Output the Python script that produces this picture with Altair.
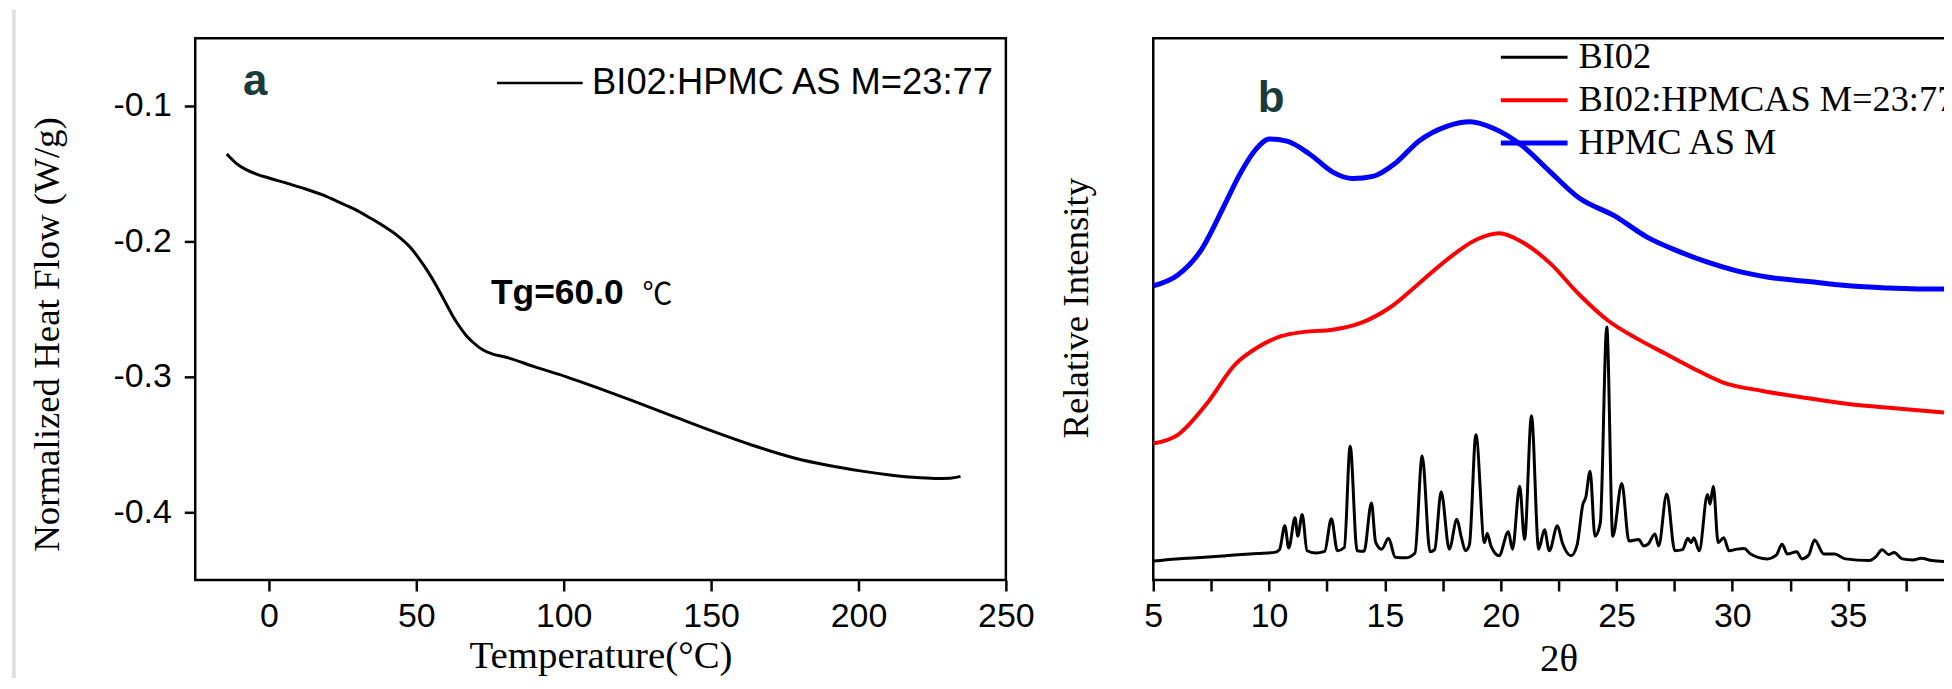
import altair as alt
import pandas as pd

# ---------------- Panel a : DSC curve ----------------
DSC_SERIES = "BI02:HPMC AS M=23:77"
DSC_TEMP = [-14.3, -11, -7.9, -4, 0, 6, 12.5, 18, 23.8, 29, 34, 39, 44.2, 48, 51, 54,
            56.7, 59.5, 62.3, 64.7, 66.9, 69.5, 72.5, 76, 80.5, 90, 100.9, 112, 123.5,
            137, 150.7, 164, 177.9, 190, 200.6, 210, 218.7, 226, 231, 234.6]
DSC_FLOW = [-0.1355, -0.1425, -0.1468, -0.1505, -0.1532, -0.157, -0.1613, -0.1655,
            -0.171, -0.1762, -0.1823, -0.1888, -0.1968, -0.2045, -0.2129, -0.2225,
            -0.2323, -0.2435, -0.2548, -0.263, -0.2694, -0.275, -0.28, -0.2832,
            -0.2855, -0.2925, -0.3, -0.3085, -0.3177, -0.329, -0.3403, -0.3505,
            -0.3597, -0.3655, -0.3694, -0.3722, -0.3742, -0.375, -0.3748, -0.3735]
TEMP_DOMAIN = [-25, 250]
FLOW_DOMAIN = [-0.45, -0.05]
TEMP_TICKS = [0, 50, 100, 150, 200, 250]
FLOW_TICKS = [-0.4, -0.3, -0.2, -0.1]

# ---------------- Panel b : XRD patterns ----------------
XRD_SERIES = ["BI02", "BI02:HPMCAS M=23:77", "HPMC AS M"]
XRD_COLORS = ["#000000", "#ff0000", "#0000ff"]
THETA_DOMAIN = [5, 40]
INT_DOMAIN = [0, 100]
THETA_TICKS = [5, 7.5, 10, 12.5, 15, 17.5, 20, 22.5, 25, 27.5, 30, 32.5, 35, 37.5, 40]

BI02_2THETA = [5.0, 6.0, 7.2, 8.5, 9.5, 10.23, 10.45, 10.68, 10.85, 11.12, 11.24, 11.43,
               11.64, 12.0, 12.4, 12.69, 12.95, 13.25, 13.5, 13.8, 14.1, 14.42, 14.6,
               14.86, 15.16, 15.45, 15.9, 16.3, 16.61, 16.95, 17.15, 17.43, 17.78, 18.11,
               18.29, 18.48, 18.65, 18.93, 19.3, 19.42, 19.58, 19.93, 20.33, 20.51, 20.82,
               21.03, 21.33, 21.64, 21.89, 22.1, 22.45, 22.66, 23.04, 23.3, 23.55, 23.67,
               23.86, 24.07, 24.3, 24.58, 24.84, 25.23, 25.54, 25.96, 26.17, 26.36, 26.66,
               26.82, 27.17, 27.52, 27.85, 28.08, 28.22, 28.34, 28.57, 28.93, 29.04, 29.18,
               29.39, 29.63, 29.86, 30.21, 30.51, 30.79, 31.5, 31.9, 32.15, 32.38, 32.78,
               33.01, 33.3, 33.55, 33.95, 34.42, 34.88, 35.93, 36.2, 36.47, 36.75, 36.99,
               37.34, 37.8, 38.15, 38.62, 39.16, 40.0]
BI02_INT = [3.5, 3.9, 4.2, 4.6, 4.9, 5.1, 5.6, 10.0, 5.9, 11.5, 8.1, 12.1,
            5.4, 5.0, 5.3, 11.3, 5.4, 6.0, 24.7, 5.4, 5.3, 14.2, 7.0,
            5.7, 7.7, 4.2, 4.1, 5.0, 22.9, 5.2, 5.6, 16.3, 5.7, 11.2,
            8.1, 5.4, 6.5, 26.8, 6.9, 8.6, 6.3, 4.5, 8.9, 5.7, 17.3,
            7.5, 30.3, 5.7, 9.3, 5.4, 10.0, 6.9, 4.5, 6.5, 14.0, 15.2,
            20.1, 8.1, 10.5, 46.7, 8.1, 17.8, 7.2, 7.5, 6.3, 6.6, 8.5,
            6.3, 15.9, 5.4, 5.6, 7.7, 6.9, 7.8, 5.4, 15.8, 14.0, 17.3,
            6.9, 7.8, 5.4, 5.7, 5.8, 4.8, 3.9, 4.6, 6.6, 4.8, 5.2,
            3.9, 4.6, 7.4, 4.8, 4.8, 3.9, 3.6, 4.3, 5.6, 4.7, 5.1,
            3.9, 3.7, 4.0, 3.6, 3.4, 3.3]

SD_2THETA = [5.0, 6.06, 7.3, 8.54, 9.53, 10.52, 11.51, 12.75, 13.99, 15.22, 16.46, 17.7,
             18.94, 19.93, 20.92, 22.15, 23.39, 24.63, 25.87, 27.1, 28.34, 29.58, 31.31,
             33.04, 35.02, 37.0, 39.18, 40.0]
SD_INT = [25.2, 26.8, 32.5, 39.8, 43.0, 45.0, 45.8, 46.2, 47.5, 50.3, 54.7, 59.2,
          62.8, 64.0, 62.4, 58.4, 52.7, 47.9, 44.6, 41.8, 39.0, 36.5, 34.9,
          33.7, 32.5, 31.7, 30.9, 30.6]

HPMC_2THETA = [5.0, 6.06, 7.05, 8.04, 8.79, 9.41, 10.02, 10.77, 11.76, 12.75, 13.61, 14.48,
               15.47, 16.46, 17.7, 18.69, 19.68, 20.92, 22.15, 23.39, 24.88, 26.36, 27.6,
               28.84, 30.07, 31.56, 33.29, 35.02, 36.76, 38.24, 39.18, 40.0]
HPMC_INT = [54.3, 56.3, 60.8, 68.9, 75.3, 79.4, 81.4, 81.0, 78.6, 75.3, 74.1, 74.5,
            77.0, 81.0, 83.8, 84.6, 83.4, 80.2, 75.3, 70.5, 67.3, 63.2, 60.8,
            58.8, 57.2, 55.9, 55.1, 54.3, 53.9, 53.7, 53.7, 53.6]

PANEL_LABELS = ["a", "b"]
TG_TEXT = "Tg=60.0"
TG_UNIT = "℃"

# ---------------- layout / style ----------------
PW, PH = 814, 544          # plot-area size of each panel
B_LEFT = 962               # left edge of panel b relative to panel a
SANS = "Liberation Sans"
SERIF = "Liberation Serif"
TEAL = "#1b3b3b"

common_axis = dict(grid=False, domain=False, tickColor="black", tickWidth=2.5,
                   labelColor="black", titleColor="black", titleFontWeight="normal")

# ----- panel a -----
dsc_df = pd.DataFrame({"temp": DSC_TEMP, "flow": DSC_FLOW, "series": DSC_SERIES})
frame_a_df = pd.DataFrame({"t0": [TEMP_DOMAIN[0]], "t1": [TEMP_DOMAIN[1]],
                           "f0": [FLOW_DOMAIN[0]], "f1": [FLOW_DOMAIN[1]]})

xa_scale = alt.Scale(domain=TEMP_DOMAIN, range=[0, PW], nice=False, zero=False)
ya_scale = alt.Scale(domain=FLOW_DOMAIN, nice=False, zero=False)
xa_axis = alt.Axis(orient="bottom", values=TEMP_TICKS, tickSize=11, labelFont=SANS,
                   labelFontSize=34, labelPadding=9, labelFlush=False, labelOverlap=False,
                   title="Temperature(°C)", titleFont=SERIF, titleFontSize=39,
                   titleX=PW / 2, titleY=88, titleAlign="center",
                   titleBaseline="alphabetic", **common_axis)
ya_axis = alt.Axis(orient="left", values=FLOW_TICKS, tickSize=11, labelFont=SANS,
                   labelFontSize=34, labelPadding=13,
                   labelExpr="replace(datum.label, '−', '-')",
                   title="Normalized Heat Flow (W/g)", titleFont=SERIF, titleFontSize=37,
                   titleAngle=270, titleX=-137, titleY=297, titleAlign="center",
                   titleBaseline="alphabetic", **common_axis)

frame_a = alt.Chart(frame_a_df).mark_rect(fillOpacity=0, stroke="black", strokeWidth=2.5).encode(
    x=alt.X("t0:Q", scale=xa_scale, axis=xa_axis), x2="t1:Q",
    y=alt.Y("f0:Q", scale=ya_scale, axis=ya_axis), y2="f1:Q")

line_a = alt.Chart(dsc_df).mark_line(strokeWidth=3, interpolate="monotone").encode(
    x=alt.X("temp:Q", scale=xa_scale, axis=xa_axis),
    y=alt.Y("flow:Q", scale=ya_scale, axis=ya_axis),
    color=alt.Color("series:N", scale=alt.Scale(domain=[DSC_SERIES], range=["#000000"]),
                    legend=alt.Legend(title=None, orient="none", legendX=301.5, legendY=25,
                                      direction="vertical", symbolType="stroke",
                                      symbolSize=86 * 86, symbolStrokeWidth=2.5,
                                      symbolOffset=0, labelFont=SANS, labelFontSize=36.5,
                                      labelColor="black", labelOffset=8, labelLimit=1000,
                                      clipHeight=40, padding=0, rowPadding=0)))

panel_a = alt.layer(frame_a, line_a)

# ----- panel b -----
xrd_df = pd.concat([
    pd.DataFrame({"theta": BI02_2THETA, "intensity": BI02_INT, "series": XRD_SERIES[0]}),
    pd.DataFrame({"theta": SD_2THETA, "intensity": SD_INT, "series": XRD_SERIES[1]}),
    pd.DataFrame({"theta": HPMC_2THETA, "intensity": HPMC_INT, "series": XRD_SERIES[2]}),
], ignore_index=True)
frame_b_df = pd.DataFrame({"t0": [THETA_DOMAIN[0]], "t1": [THETA_DOMAIN[1]],
                           "i0": [INT_DOMAIN[0]], "i1": [INT_DOMAIN[1]]})

xb_scale = alt.Scale(domain=THETA_DOMAIN, range=[B_LEFT, B_LEFT + PW], nice=False, zero=False)
yb_scale = alt.Scale(domain=INT_DOMAIN, nice=False, zero=False)
xb_axis = alt.Axis(orient="bottom", values=THETA_TICKS, tickSize=11, labelFont=SANS,
                   labelFontSize=34, labelPadding=9, labelFlush=False, labelOverlap=False,
                   labelExpr="datum.value % 5 === 0 ? datum.label : ''",
                   title="2θ", titleFont=SERIF, titleFontSize=39,
                   titleX=B_LEFT + PW / 2, titleY=91, titleAlign="center",
                   titleBaseline="alphabetic", **common_axis)
yb_axis = alt.Axis(orient="left", offset=-B_LEFT, ticks=False, labels=False,
                   title="Relative Intensity", titleFont=SERIF, titleFontSize=37,
                   titleAngle=270, titleX=-66, titleY=270.5, titleAlign="center",
                   titleBaseline="alphabetic", grid=False, domain=False,
                   titleColor="black", titleFontWeight="normal")

frame_b = alt.Chart(frame_b_df).mark_rect(fillOpacity=0, stroke="black", strokeWidth=2.5).encode(
    x=alt.X("t0:Q", scale=xb_scale, axis=xb_axis), x2="t1:Q",
    y=alt.Y("i0:Q", scale=yb_scale, axis=yb_axis), y2="i1:Q")

lines_b = alt.Chart(xrd_df).mark_line(interpolate="monotone").encode(
    x=alt.X("theta:Q", scale=xb_scale, axis=xb_axis),
    y=alt.Y("intensity:Q", scale=yb_scale, axis=yb_axis),
    strokeWidth=alt.StrokeWidth("series:N", scale=alt.Scale(domain=XRD_SERIES, range=[3, 5, 5]),
                                legend=None),
    color=alt.Color("series:N", scale=alt.Scale(domain=XRD_SERIES, range=XRD_COLORS),
                    legend=alt.Legend(title=None, orient="none", legendX=1308.5, legendY=-2,
                                      direction="vertical", symbolType="stroke",
                                      symbolSize=67 * 67, symbolStrokeWidth=3,
                                      symbolOffset=0, labelFont=SERIF, labelFontSize=36.5,
                                      labelColor="black", labelOffset=8.5, labelLimit=1000,
                                      clipHeight=42.3, padding=0, rowPadding=0)))

panel_b = alt.layer(frame_b, lines_b)


# ----- annotations -----
def text_layer(text, x, y, font, size, weight, color):
    return alt.Chart(pd.DataFrame({"label": [text]})).mark_text(
        font=font, fontSize=size, fontWeight=weight, color=color,
        align="left", baseline="alphabetic").encode(
        x=alt.value(x), y=alt.value(y), text="label:N")


texts = [
    text_layer(PANEL_LABELS[0], 48, 57, SANS, 44, "bold", TEAL),
    text_layer(PANEL_LABELS[1], 1067, 74, SANS, 44, "bold", TEAL),
    text_layer(TG_TEXT, 297, 267, SANS, 35.5, "bold", "black"),
    text_layer(TG_UNIT, 449, 267, "Noto Sans CJK SC", 30, "normal", "black"),
]

band = alt.Chart(pd.DataFrame({"k": [0]})).mark_rule(color="#dedede", strokeWidth=3.5).encode(
    x=alt.value(-182), y=alt.value(-29), y2=alt.value(660))

chart = alt.layer(band, panel_a, panel_b, *texts).resolve_scale(
    x="independent", y="independent", color="independent", strokeWidth="independent"
).resolve_axis(x="independent", y="independent").resolve_legend(
    color="independent"
).properties(
    width=1756, height=PH,
    padding={"left": 188, "top": 29, "right": 0, "bottom": 97},
    autosize=alt.AutoSizeParams(type="none"),
    background="white",
).configure_view(strokeWidth=0)

chart.save("out.html", embed_options={"renderer": "svg", "actions": False})
